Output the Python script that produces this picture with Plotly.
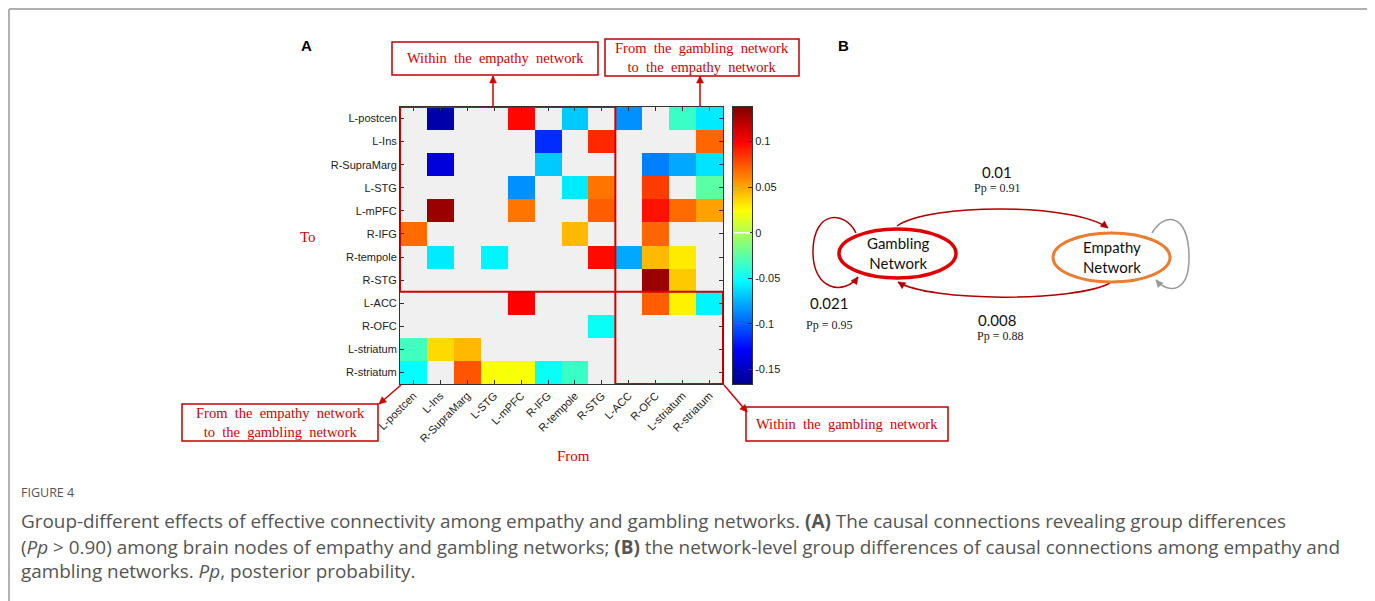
import numpy as np
import plotly.graph_objects as go

# page is drawn with an 8px body margin: figure is sized so that it fills the window
OFF = 8
W, H = 1375 - OFF, 601 - OFF

# ---------------- data ----------------
nodes = ["L-postcen", "L-Ins", "R-SupraMarg", "L-STG", "L-mPFC", "R-IFG",
         "R-tempole", "R-STG", "L-ACC", "R-OFC", "L-striatum", "R-striatum"]
N = None
# rows = "To" node, columns = "From" node
effect = [
    [N, -0.157, N, N, 0.098, N, -0.068, N, -0.085, N, -0.035, -0.058],   # L-postcen
    [N, N, N, N, N, -0.115, N, 0.088, N, N, N, 0.070],                    # L-Ins
    [N, -0.140, N, N, N, -0.068, N, N, N, -0.090, -0.078, -0.060],        # R-SupraMarg
    [N, N, N, N, -0.085, N, -0.058, 0.065, N, 0.082, N, -0.025],          # L-STG
    [N, 0.130, N, N, 0.065, N, N, 0.072, N, 0.095, 0.068, 0.052],         # L-mPFC
    [0.068, N, N, N, N, N, 0.045, N, N, 0.070, N, N],                     # R-IFG
    [N, -0.058, N, -0.055, N, N, N, 0.097, -0.078, 0.045, 0.030, N],      # R-tempole
    [N, N, N, N, N, N, N, N, N, 0.130, 0.040, N],                         # R-STG
    [N, N, N, N, 0.100, N, N, N, N, 0.072, 0.028, -0.055],                # L-ACC
    [N, N, N, N, N, N, N, -0.050, N, N, N, N],                            # R-OFC
    [-0.033, 0.035, 0.045, N, N, N, N, N, N, N, N, N],                    # L-striatum
    [-0.052, N, 0.075, 0.022, 0.022, -0.050, -0.035, N, N, N, N, N],      # R-striatum
]
zmin, zmax = -0.166, 0.138
cbar_ticks = [-0.15, -0.1, -0.05, 0, 0.05, 0.1]
cbar_text = ["-0.15", "-0.1", "-0.05", "0", "0.05", "0.1"]

net_names = ["Gambling<br>Network", "Empathy<br>Network"]
net_values = {"g2e": "0.01", "e2g": "0.008", "gself": "0.021"}
net_pp = {"g2e": "Pp = 0.91", "e2g": "Pp = 0.88", "gself": "Pp = 0.95"}

jet = [[0.0, "rgb(0,0,143)"], [0.125, "rgb(0,0,255)"], [0.375, "rgb(0,255,255)"],
       [0.625, "rgb(255,255,0)"], [0.875, "rgb(255,0,0)"], [1.0, "rgb(128,0,0)"]]

def X(px):
    return (px - OFF) / W

def Y(py):
    return 1 - (py - OFF) / H

RED = "#d40000"
SERIF = "Liberation Serif"
SANS = "Liberation Sans"

fig = go.Figure()

# main heatmap
hx0, hx1, hy0, hy1 = 400, 723, 107, 384
fig.add_trace(go.Heatmap(
    z=effect, x=list(range(12)), y=list(range(12)),
    colorscale=jet, zmin=zmin, zmax=zmax, showscale=False,
    xaxis="x", yaxis="y", hoverongaps=False))

# colorbar drawn as its own heatmap
cb_vals = np.linspace(zmin, zmax, 400)
fig.add_trace(go.Heatmap(
    z=[[v] for v in cb_vals], x=[0], y=cb_vals,
    colorscale=jet, zmin=zmin, zmax=zmax, showscale=False,
    xaxis="x2", yaxis="y2", hoverinfo="skip"))

axfont = dict(family=SANS, size=11, color="#222")
fig.update_layout(
    template="none",
    width=W, height=H, margin=dict(l=0, r=0, t=0, b=0, pad=0, autoexpand=False),
    paper_bgcolor="white", plot_bgcolor="#f0f0f0", showlegend=False,
    xaxis=dict(domain=[X(hx0), X(hx1)], range=[-0.5, 11.5], tickvals=list(range(12)),
               ticktext=nodes, tickangle=-45, ticks="inside", ticklen=4, tickcolor="#333",
               showline=True, linecolor="#333", linewidth=1, mirror="ticks",
               showgrid=False, zeroline=False, tickfont=axfont, anchor="y", automargin=False),
    yaxis=dict(domain=[Y(hy1), Y(hy0)], range=[11.5, -0.5], tickvals=list(range(12)),
               ticktext=nodes, ticks="inside", ticklen=4, tickcolor="#333",
               showline=True, linecolor="#333", linewidth=1, mirror="ticks",
               showgrid=False, zeroline=False, tickfont=axfont, anchor="x", automargin=False),
    xaxis2=dict(domain=[X(733), X(752)], range=[-0.5, 0.5], showticklabels=False,
                ticks="", showline=True, linecolor="#333", linewidth=1, mirror=True,
                showgrid=False, zeroline=False, anchor="y2", automargin=False),
    yaxis2=dict(domain=[Y(hy1), Y(hy0)], range=[zmin, zmax], side="right",
                tickvals=cbar_ticks, ticktext=cbar_text, ticks="inside", ticklen=4,
                tickcolor="#333", showline=True, linecolor="#333", linewidth=1,
                mirror=True, showgrid=False, zeroline=False, tickfont=axfont,
                anchor="x2", automargin=False),
)

shapes = []
annots = []

def text(x, y, t, font, xanchor="center"):
    annots.append(dict(xref="paper", yref="paper", x=X(x), y=Y(y), text=t, showarrow=False,
                       xanchor=xanchor, yanchor="middle", font=font))

# zero marker on colorbar
shapes.append(dict(type="line", xref="paper", yref="y2", x0=X(734), x1=X(750),
                   y0=0, y1=0, line=dict(color="white", width=1.5)))

# red network boxes on heatmap
shapes.append(dict(type="rect", xref="x", yref="y", x0=-0.5, x1=7.5, y0=-0.5, y1=7.5,
                   line=dict(color=RED, width=2)))
shapes.append(dict(type="rect", xref="x", yref="y", x0=7.5, x1=11.5, y0=7.5, y1=11.5,
                   line=dict(color=RED, width=2)))

def arrow_head(tip, frm, size=7, width=4, color=RED):
    tx, ty = tip
    fx, fy = frm
    dx, dy = tx - fx, ty - fy
    L = (dx * dx + dy * dy) ** 0.5
    ux, uy = dx / L, dy / L
    bx, by = tx - ux * size, ty - uy * size
    px_, py_ = -uy, ux
    p1 = (bx + px_ * width, by + py_ * width)
    p2 = (bx - px_ * width, by - py_ * width)
    path = "M {} {} L {} {} L {} {} Z".format(X(tx), Y(ty), X(p1[0]), Y(p1[1]), X(p2[0]), Y(p2[1]))
    return dict(type="path", xref="paper", yref="paper", path=path,
                fillcolor=color, line=dict(color=color, width=0.5))

def pline(a, b, color=RED, width=1.5):
    return dict(type="line", xref="paper", yref="paper", x0=X(a[0]), y0=Y(a[1]),
                x1=X(b[0]), y1=Y(b[1]), line=dict(color=color, width=width))

def label_box(x0, y0, x1, y1, t):
    shapes.append(dict(type="rect", xref="paper", yref="paper", x0=X(x0), x1=X(x1),
                       y0=Y(y1), y1=Y(y0), line=dict(color="#c00000", width=1.5),
                       fillcolor="white"))
    text((x0 + x1) / 2, (y0 + y1) / 2, t, dict(family=SERIF, size=14.5, color=RED))

label_box(392, 42, 598, 75, "Within  the  empathy  network")
label_box(605, 39, 799, 76, "From  the  gambling  network<br>to  the  empathy  network")
label_box(182, 404, 378, 441, "From  the  empathy  network<br>to  the  gambling  network")
label_box(746, 407, 948, 441, "Within  the  gambling  network")

# connector arrows
for tail, tip in [((493, 107), (493, 76)), ((700, 107), (700, 76)),
                  ((401, 385), (379, 404)), ((724, 385), (747, 412))]:
    shapes.append(pline(tail, tip))
    shapes.append(arrow_head(tip, tail, size=7, width=3.5))

# axis titles & panel letters
text(308, 237, "To", dict(family=SERIF, size=15, color=RED))
text(573, 456, "From", dict(family=SERIF, size=15, color=RED))
text(306, 46, "<b>A</b>", dict(family=SANS, size=15, color="black"))
text(843, 46, "<b>B</b>", dict(family=SANS, size=15, color="black"))

# ---------------- panel B ----------------
DARK = "#b00000"

def cubic(points):
    p = points
    s = "M {} {}".format(X(p[0][0]), Y(p[0][1]))
    for i in range(1, len(p), 3):
        s += " C {} {}, {} {}, {} {}".format(X(p[i][0]), Y(p[i][1]), X(p[i + 1][0]), Y(p[i + 1][1]),
                                             X(p[i + 2][0]), Y(p[i + 2][1]))
    return s

def curve(points, color, width=1.5):
    shapes.append(dict(type="path", xref="paper", yref="paper", path=cubic(points),
                       line=dict(color=color, width=width)))
    shapes.append(arrow_head(points[-1], points[-2], size=7, width=3.5, color=color))

# top arc gambling -> empathy
curve([(897, 226), (930, 203), (1075, 203), (1108, 228)], DARK)
# bottom arc empathy -> gambling
curve([(1110, 283), (1075, 302), (930, 302), (898, 282)], DARK)
# gambling self loop
curve([(856, 233), (845, 210), (814, 210), (813, 250), (812, 292), (845, 295), (858, 277)], DARK)
# empathy self loop (grey)
curve([(1152, 233), (1165, 211), (1188, 214), (1189, 255), (1190, 294), (1168, 294), (1156, 280)],
      "#9a9a9a")

# ellipses
shapes.append(dict(type="circle", xref="paper", yref="paper", x0=X(839), x1=X(956),
                   y0=Y(278), y1=Y(229), line=dict(color="#e00000", width=3.5), fillcolor="white"))
shapes.append(dict(type="circle", xref="paper", yref="paper", x0=X(1053), x1=X(1170),
                   y0=Y(282), y1=Y(233), line=dict(color="#ec7c30", width=3), fillcolor="white"))

text(898, 253, net_names[0], dict(family="Lato", size=15, color="#111"))
text(1112, 257, net_names[1], dict(family="Lato", size=15, color="#111"))

for key, (vx, vy, px_, py_) in {"g2e": (997, 172, 997, 188),
                                "gself": (829, 303, 829, 325),
                                "e2g": (997, 320, 1000, 336)}.items():
    text(vx, vy, net_values[key], dict(family="Lato", size=15, color="#111"))
    text(px_, py_, net_pp[key], dict(family=SERIF, size=12, color="#222"))

# ---------------- frame & caption ----------------
FRAME = "#b0b0b0"
shapes.append(pline((9, 9), (1369, 9), FRAME, 2))
shapes.append(pline((9, 9), (9, 601), FRAME, 2))
shapes.append(pline((1369, 9), (1369, 601), FRAME, 2))

cap_font = dict(family="Open Sans", size=18.9, color="#555")
text(19, 492, "FIGURE 4", dict(family="Open Sans", size=12.5, color="#555"), xanchor="left")
cap_lines = [
    "Group-different effects of effective connectivity among empathy and gambling networks. <b>(A)</b> The causal connections revealing group differences",
    "(<i>Pp</i> > 0.90) among brain nodes of empathy and gambling networks; <b>(B)</b> the network-level group differences of causal connections among empathy and",
    "gambling networks. <i>Pp</i>, posterior probability.",
]
for line, yy in zip(cap_lines, [521, 547, 571]):
    text(19, yy, line, cap_font, xanchor="left")

fig.update_layout(shapes=shapes, annotations=annots)
fig.write_html("out.html")
